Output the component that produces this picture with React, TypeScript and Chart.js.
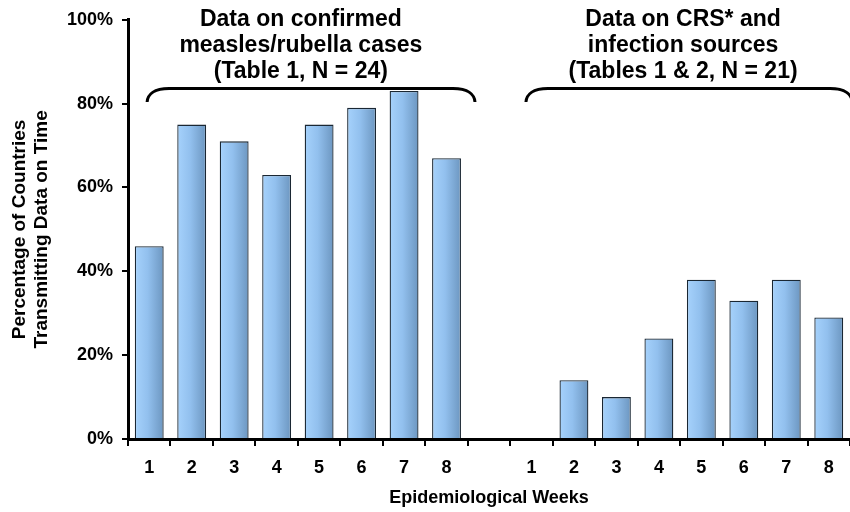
import React, { useEffect, useRef } from "react";
import { Chart, registerables } from "chart.js";

Chart.register(...registerables);

const weeks = ["1", "2", "3", "4", "5", "6", "7", "8"];
const confirmedCases = [46, 75, 71, 63, 75, 79, 83, 67];
const crsSources = [0, 14, 10, 24, 38, 33, 38, 29];
const yTicks = [0, 20, 40, 60, 80, 100];
const group1Text = ["Data on confirmed", "measles/rubella cases", "(Table 1, N = 24)"];
const group2Text = ["Data on CRS* and", "infection sources", "(Tables 1 & 2, N = 21)"];
const yTitle = ["Percentage of Countries", "Transmitting Data on Time"];
const xTitle = "Epidemiological Weeks";

const FONT = '"Liberation Sans", Arial, sans-serif';
const BAR_PCT = 0.68;

const labels = [...weeks, "", ...weeks];
const values: (number | null)[] = [...confirmedCases, null, ...crsSources];

const bracePlugin = {
  id: "braces",
  afterDraw(chart: any) {
    const { ctx } = chart;
    const x = chart.scales.x;
    const groups = [
      { text: group1Text, center: 3.57, from: -0.05, to: 7.67 },
      { text: group2Text, center: 12.57, from: 8.87, to: 16.55 },
    ];
    ctx.save();
    ctx.fillStyle = "#000";
    ctx.strokeStyle = "#000";
    ctx.font = `bold 23px ${FONT}`;
    ctx.textAlign = "center";
    ctx.textBaseline = "middle";
    const lineYs = [20, 46, 72];
    for (const g of groups) {
      const cx = x.getPixelForValue(g.center);
      g.text.forEach((t, i) => ctx.fillText(t, cx, lineYs[i]));
      const x1 = x.getPixelForValue(g.from);
      const x2 = x.getPixelForValue(g.to);
      const yTop = 88.5;
      const yEnd = 102;
      ctx.lineWidth = 3;
      ctx.beginPath();
      ctx.moveTo(x1, yEnd);
      ctx.bezierCurveTo(x1 + 0.5, yTop + 6, x1 + 7, yTop, x1 + 22, yTop);
      ctx.lineTo(x2 - 22, yTop);
      ctx.bezierCurveTo(x2 - 7, yTop, x2 - 0.5, yTop + 6, x2, yEnd);
      ctx.stroke();
    }
    ctx.restore();
  },
};

export default function App() {
  const ref = useRef<HTMLCanvasElement | null>(null);

  useEffect(() => {
    if (!ref.current) return;
    const chart = new Chart(ref.current, {
      type: "bar",
      data: {
        labels,
        datasets: [
          {
            data: values,
            backgroundColor: (c: any) => {
              const ch = c.chart;
              const xs = ch.scales && ch.scales.x;
              if (!xs || !ch.chartArea) return "#8fbce9";
              const center = xs.getPixelForValue(c.dataIndex);
              const w = (xs.width / labels.length) * BAR_PCT;
              const g = ch.ctx.createLinearGradient(center - w / 2, 0, center + w / 2, 0);
              g.addColorStop(0, "#a6d2fc");
              g.addColorStop(0.45, "#92c0ee");
              g.addColorStop(1, "#6c96c0");
              return g;
            },
            borderColor: "#1a2733",
            borderWidth: 1.3,
            barPercentage: BAR_PCT,
            categoryPercentage: 1,
          },
        ],
      },
      options: {
        animation: false,
        responsive: true,
        maintainAspectRatio: false,
        layout: { padding: { top: 19, left: 0, right: 0, bottom: 0 } },
        plugins: {
          legend: { display: false },
          tooltip: { enabled: false },
          title: { display: false },
        },
        scales: {
          x: {
            afterFit: (s: any) => {
              s.height = 73;
            },
            grid: {
              display: true,
              drawOnChartArea: false,
              drawTicks: true,
              tickLength: 7,
              color: "#000",
              lineWidth: 2,
              offset: true,
            },
            border: { display: true, color: "#000", width: 3 },
            ticks: {
              color: "#000",
              font: { family: FONT, size: 18, weight: "bold" },
              padding: 11,
              maxRotation: 0,
              autoSkip: false,
            },
            title: {
              display: true,
              text: xTitle,
              color: "#000",
              font: { family: FONT, size: 18, weight: "bold" },
              padding: { top: 4, bottom: 3 },
            },
          },
          y: {
            min: 0,
            max: 100,
            afterFit: (s: any) => {
              s.width = 128;
            },
            afterBuildTicks: (s: any) => {
              s.ticks = yTicks.map((v) => ({ value: v }));
            },
            grid: {
              display: true,
              drawOnChartArea: false,
              drawTicks: true,
              tickLength: 6,
              color: "#000",
              lineWidth: 2,
            },
            border: { display: true, color: "#000", width: 3 },
            ticks: {
              color: "#000",
              font: { family: FONT, size: 18, weight: "bold" },
              padding: 9,
              callback: (v: any) => `${v}%`,
            },
            title: {
              display: true,
              text: yTitle,
              color: "#000",
              font: { family: FONT, size: 19, weight: "bold", lineHeight: 1.2 },
              padding: { top: 8, bottom: 0 },
            },
          },
        },
      },
      plugins: [bracePlugin],
    });
    return () => chart.destroy();
  }, []);

  return (
    <div style={{ position: "fixed", left: 0, top: 0, width: 850, height: 512, background: "#fff" }}>
      <canvas ref={ref} />
    </div>
  );
}
